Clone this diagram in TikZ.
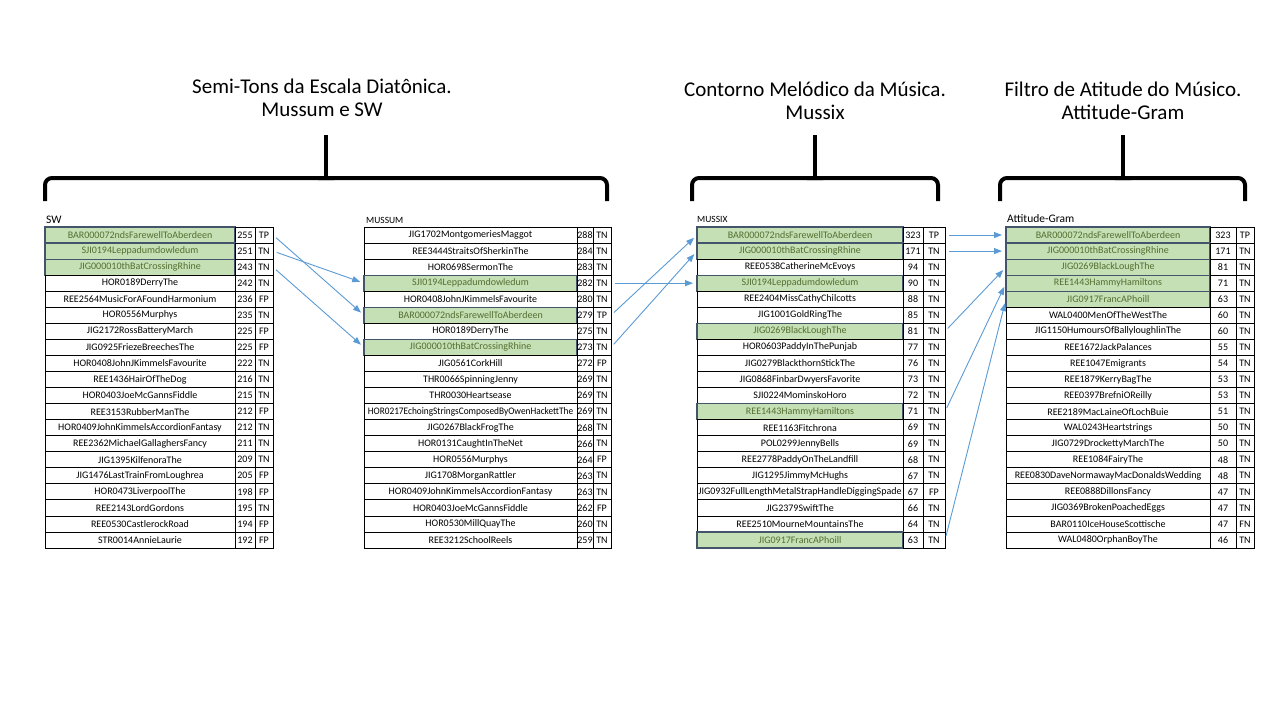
\documentclass[tikz,border=0pt]{standalone}
\usepackage{fontspec}
\setmainfont{Carlito}
\usetikzlibrary{arrows.meta}

\begin{document}
\begin{tikzpicture}[x=1pt,y=-1pt,
  cell/.style={draw,inner sep=0pt,outer sep=0pt,minimum height=16.05pt,line width=0.8pt,font=\fontsize{10}{12}\selectfont},
  sel/.style={fill=kGreen,draw=kSlate,line width=1.2pt,text=kTextGreen},
  nsel/.style={},
  lbl/.style={anchor=base west,inner sep=0pt,font=\fontsize{9.5}{11}\selectfont},
  titulo/.style={align=center,font=\fontsize{21}{23}\selectfont},
  chave/.style={line width=4pt,rounded corners=7pt},
  seta/.style={draw=kBlue,line width=0.9pt,-{Triangle[length=8pt,width=6pt]},shorten <=4pt,shorten >=4pt}]
  % colors
  \definecolor{kGreen}{RGB}{197,224,180}
  \definecolor{kSlate}{RGB}{68,84,106}
  \definecolor{kTextGreen}{RGB}{84,110,50}
  \definecolor{kBlue}{RGB}{91,155,213}
  % page
  \fill[white] (0,0) rectangle (1280,720);
  \useasboundingbox (0,0) rectangle (1280,720);
  % titles
  \node[titulo] (t1) at (322,98) {Semi-Tons da Escala Diatônica.\\Mussum e SW};
  \node[titulo] (t2) at (815,101) {Contorno Melódico da Música.\\Mussix};
  \node[titulo] (t3) at (1123,101) {Filtro de Atitude do Músico.\\Attitude-Gram};
  % braces
  \foreach \l/\c/\r in {45/326/607, 692/815/938, 1000/1123/1245}{
    \draw[chave] (\l,201) -- (\l,178) -- (\c,178) -- (\r,178) -- (\r,201);
    \draw[line width=4pt] (\c,178) -- (\c,135);
    \fill ({\c-8},180) .. controls ({\c-2},178) .. ({\c-1},172) -- ({\c+1},172) .. controls ({\c+2},178) .. ({\c+8},180) -- cycle;
  }
  % labels
  \node[lbl,font=\fontsize{11.5}{13}\selectfont] (lsw) at (46,223) {SW};
  \node[lbl] (lmu) at (366,223) {MUSSUM};
  \node[lbl] (lmx) at (697,222) {MUSSIX};
  \node[lbl,font=\fontsize{11.5}{13}\selectfont] (lag) at (1007,222) {Attitude-Gram};
  % table SW
  \foreach \nome/\val/\cls/\hl [count=\i] in {
    BAR000072ndsFarewellToAberdeen/255/TP/sel, SJI0194Leppadumdowledum/251/TN/sel,
    JIG000010thBatCrossingRhine/243/TN/sel, HOR0189DerryThe/242/TN/nsel,
    REE2564MusicForAFoundHarmonium/236/FP/nsel, HOR0556Murphys/235/TN/nsel,
    JIG2172RossBatteryMarch/225/FP/nsel, JIG0925FriezeBreechesThe/225/FP/nsel,
    HOR0408JohnJKimmelsFavourite/222/TN/nsel, REE1436HairOfTheDog/216/TN/nsel,
    HOR0403JoeMcGannsFiddle/215/TN/nsel, REE3153RubberManThe/212/FP/nsel,
    HOR0409JohnKimmelsAccordionFantasy/212/TN/nsel, REE2362MichaelGallaghersFancy/211/TN/nsel,
    JIG1395KilfenoraThe/209/TN/nsel, JIG1476LastTrainFromLoughrea/205/FP/nsel,
    HOR0473LiverpoolThe/198/FP/nsel, REE2143LordGordons/195/TN/nsel,
    REE0530CastlerockRoad/194/FP/nsel, STR0014AnnieLaurie/192/FP/nsel}{
    \node[cell,\hl,minimum width=190pt,anchor=north west] (sw\i-n) at (45,{227+(\i-1)*16.05}) {\nome};
    \node[cell,minimum width=20pt,anchor=west] (sw\i-v) at (sw\i-n.east) {\val};
    \node[cell,minimum width=18pt,anchor=west] (sw\i-c) at (sw\i-v.east) {\cls};
  }
  % table MUSSUM
  \foreach \nome/\val/\cls/\hl [count=\i] in {
    JIG1702MontgomeriesMaggot/288/TN/nsel, REE3444StraitsOfSherkinThe/284/TN/nsel,
    HOR0698SermonThe/283/TN/nsel, SJI0194Leppadumdowledum/282/TN/sel,
    HOR0408JohnJKimmelsFavourite/280/TN/nsel, BAR000072ndsFarewellToAberdeen/279/TP/sel,
    HOR0189DerryThe/275/TN/nsel, JIG000010thBatCrossingRhine/273/TN/sel,
    JIG0561CorkHill/272/FP/nsel, THR0066SpinningJenny/269/TN/nsel,
    THR0030Heartsease/269/TN/nsel, {\scalebox{0.93}[1]{HOR0217EchoingStringsComposedByOwenHackettThe}}/269/TN/nsel,
    JIG0267BlackFrogThe/268/TN/nsel, HOR0131CaughtInTheNet/266/TN/nsel,
    HOR0556Murphys/264/FP/nsel, JIG1708MorganRattler/263/TN/nsel,
    HOR0409JohnKimmelsAccordionFantasy/263/TN/nsel, HOR0403JoeMcGannsFiddle/262/FP/nsel,
    HOR0530MillQuayThe/260/TN/nsel, REE3212SchoolReels/259/TN/nsel}{
    \node[cell,\hl,minimum width=213pt,anchor=north west] (mu\i-n) at (364,{227+(\i-1)*16.05}) {\nome};
    \node[cell,minimum width=16pt,anchor=west] (mu\i-v) at (mu\i-n.east) {\val};
    \node[cell,minimum width=18pt,anchor=west] (mu\i-c) at (mu\i-v.east) {\cls};
  }
  % table MUSSIX
  \foreach \nome/\val/\cls/\hl [count=\i] in {
    BAR000072ndsFarewellToAberdeen/323/TP/sel, JIG000010thBatCrossingRhine/171/TN/sel,
    REE0538CatherineMcEvoys/94/TN/nsel, SJI0194Leppadumdowledum/90/TN/sel,
    REE2404MissCathyChilcotts/88/TN/nsel, JIG1001GoldRingThe/85/TN/nsel,
    JIG0269BlackLoughThe/81/TN/sel, HOR0603PaddyInThePunjab/77/TN/nsel,
    JIG0279BlackthornStickThe/76/TN/nsel, JIG0868FinbarDwyersFavorite/73/TN/nsel,
    SJI0224MominskoHoro/72/TN/nsel, REE1443HammyHamiltons/71/TN/sel,
    REE1163Fitchrona/69/TN/nsel, POL0299JennyBells/69/TN/nsel,
    REE2778PaddyOnTheLandfill/68/TN/nsel, JIG1295JimmyMcHughs/67/TN/nsel,
    JIG0932FullLengthMetalStrapHandleDiggingSpade/67/FP/nsel, JIG2379SwiftThe/66/TN/nsel,
    REE2510MourneMountainsThe/64/TN/nsel, JIG0917FrancAPhoill/63/TN/sel}{
    \node[cell,\hl,minimum width=206pt,anchor=north west] (mx\i-n) at (697,{227+(\i-1)*16.05}) {\nome};
    \node[cell,minimum width=20pt,anchor=west] (mx\i-v) at (mx\i-n.east) {\val};
    \node[cell,minimum width=22pt,anchor=west] (mx\i-c) at (mx\i-v.east) {\cls};
  }
  % table Attitude-Gram
  \foreach \nome/\val/\cls/\hl [count=\i] in {
    BAR000072ndsFarewellToAberdeen/323/TP/sel, JIG000010thBatCrossingRhine/171/TN/sel,
    JIG0269BlackLoughThe/81/TN/sel, REE1443HammyHamiltons/71/TN/sel,
    JIG0917FrancAPhoill/63/TN/sel, WAL0400MenOfTheWestThe/60/TN/nsel,
    JIG1150HumoursOfBallyloughlinThe/60/TN/nsel, REE1672JackPalances/55/TN/nsel,
    REE1047Emigrants/54/TN/nsel, REE1879KerryBagThe/53/TN/nsel,
    REE0397BrefniOReilly/53/TN/nsel, REE2189MacLaineOfLochBuie/51/TN/nsel,
    WAL0243Heartstrings/50/TN/nsel, JIG0729DrockettyMarchThe/50/TN/nsel,
    REE1084FairyThe/48/TN/nsel, REE0830DaveNormawayMacDonaldsWedding/48/TN/nsel,
    REE0888DillonsFancy/47/TN/nsel, JIG0369BrokenPoachedEggs/47/TN/nsel,
    BAR0110IceHouseScottische/47/FN/nsel, WAL0480OrphanBoyThe/46/TN/nsel}{
    \node[cell,\hl,minimum width=204pt,anchor=north west] (ag\i-n) at (1006,{227+(\i-1)*16.05}) {\nome};
    \node[cell,minimum width=26pt,anchor=west] (ag\i-v) at (ag\i-n.east) {\val};
    \node[cell,minimum width=18pt,anchor=west] (ag\i-c) at (ag\i-v.east) {\cls};
  }
  % arrows
  \foreach \a/\b in {sw1/mu6, sw2/mu4, sw3/mu8, mu4/mx4, mu6/mx1, mu8/mx2,
                     mx1/ag1, mx2/ag2, mx7/ag3, mx12/ag4, mx20/ag5}
    \draw[seta] (\a-c.east) -- (\b-n.west);
\end{tikzpicture}
\end{document}
